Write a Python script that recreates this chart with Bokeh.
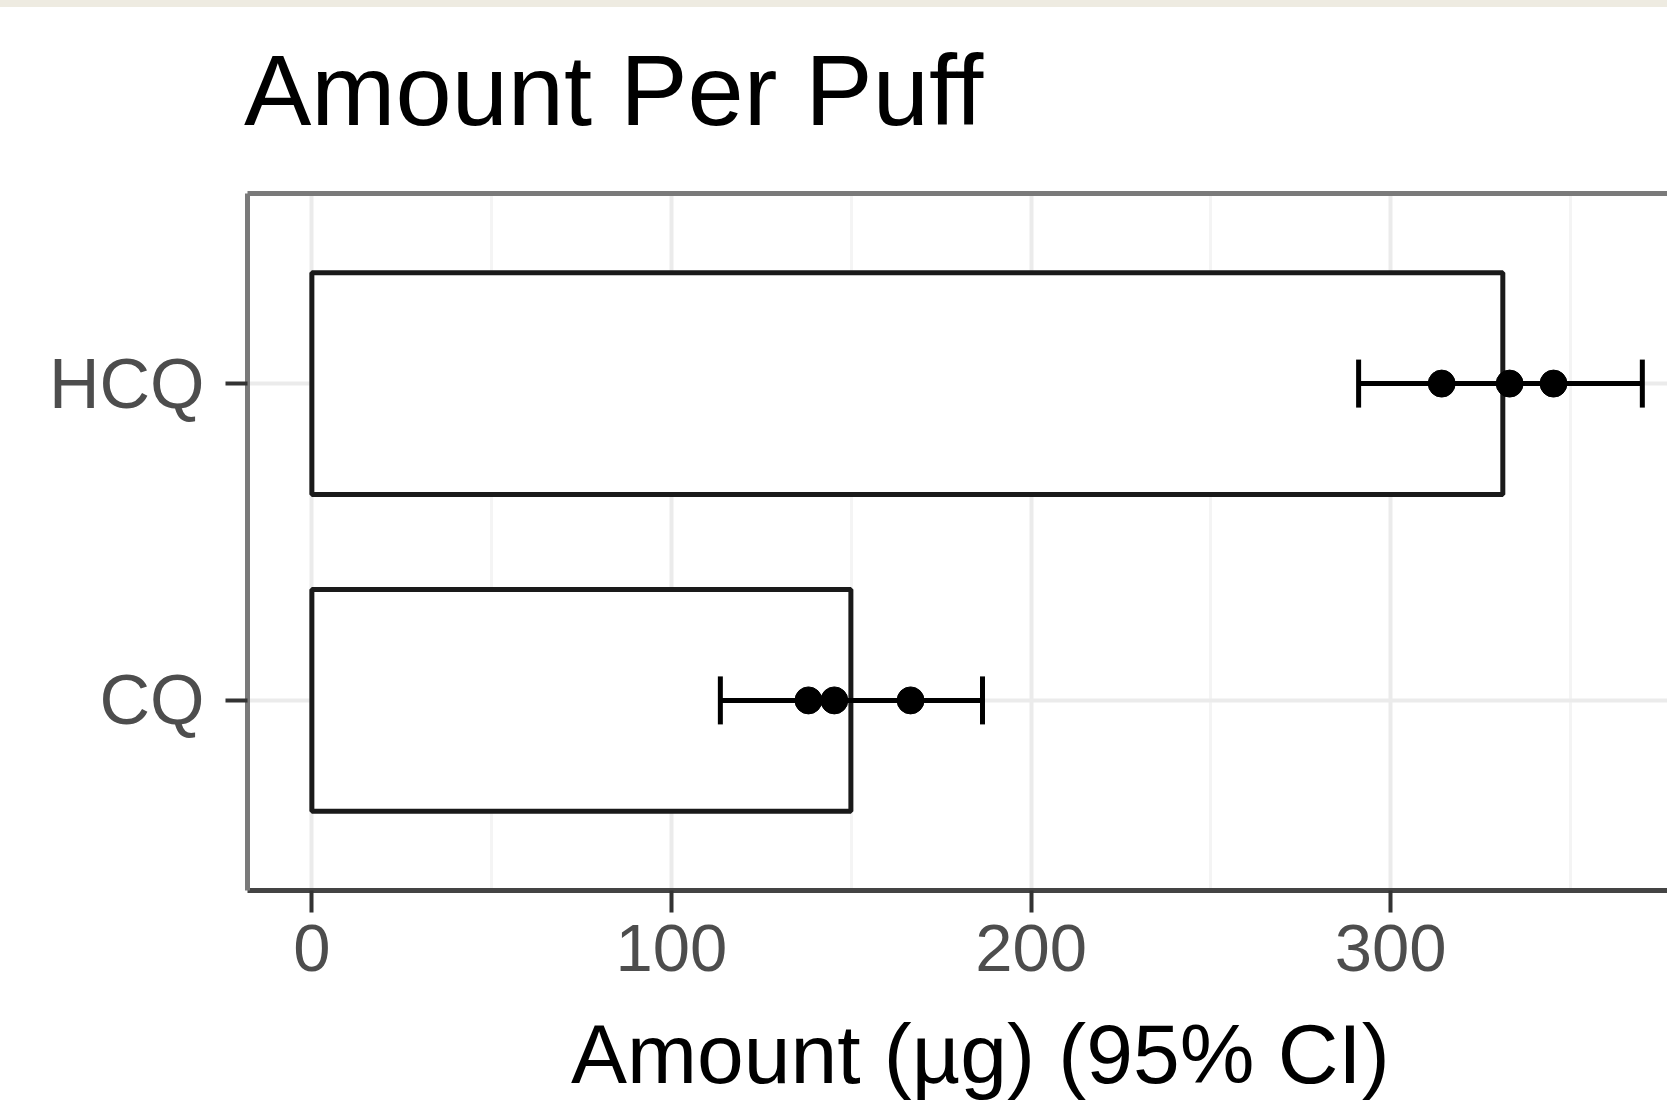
from bokeh.plotting import figure
from bokeh.layouts import column
from bokeh.models import (Range1d, FactorRange, FixedTicker, LinearAxis, Whisker,
                          TeeHead, ColumnDataSource, Div)
from bokeh.embed import file_html
from bokeh.resources import INLINE

# ---- data ----
categories = ["CQ", "HCQ"]
mean_amount = [149.9, 331.2]
ci_lower = [113.6, 291.1]
ci_upper = [186.5, 370.0]
cq_points = [138.1, 145.3, 166.5]
hcq_points = [314.2, 333.1, 345.3]
x_ticks = [0, 100, 200, 300]
x_minor_ticks = [50, 150, 250, 350]

title_text = "Amount Per Puff"
x_title = "Amount (µg) (95% CI)"

FONT = "Liberation Sans"
W = 1667

# ---- title block (with the thin beige band seen at the very top) ----
title_div = Div(
    text=('<div style="height:7px;width:%dpx;background:#eeebe1;"></div>'
          '<div style="padding:33px 0 0 244px;font-family:\'Liberation Sans\';'
          'font-size:101px;line-height:101px;color:#000;white-space:nowrap;">%s</div>'
          % (W, title_text)),
    width=W, height=150, margin=(0, 0, 0, 0))

# ---- main plot ----
p = figure(width=W, height=850, output_backend="svg", toolbar_location=None,
           x_range=Range1d(-17.9, 377.0),
           y_range=FactorRange(factors=categories, range_padding=0.1,
                               range_padding_units="absolute"),
           min_border_left=247, min_border_right=0,
           min_border_top=43, min_border_bottom=110, margin=(0, 0, 0, 0))
p.outline_line_color = None
p.background_fill_color = "white"
p.border_fill_color = "white"

# grids
tick = FixedTicker(ticks=x_ticks, minor_ticks=x_minor_ticks)
p.xaxis.ticker = tick
p.xgrid.ticker = tick
p.xgrid.grid_line_color = "#ebebeb"
p.xgrid.grid_line_width = 4
p.xgrid.minor_grid_line_color = "#f4f4f4"
p.xgrid.minor_grid_line_width = 3
p.ygrid.grid_line_color = "#ebebeb"
p.ygrid.grid_line_width = 4

# axes
for ax in (p.xaxis[0], p.yaxis[0]):
    ax.major_label_text_font = FONT
    ax.major_label_text_color = "#4d4d4d"
    ax.major_tick_line_color = "#333333"
    ax.major_tick_line_width = 4
    ax.major_tick_out = 22
    ax.major_tick_in = 0
    ax.minor_tick_line_color = None
    ax.axis_line_width = 5
p.xaxis.major_label_text_font_size = "67px"
p.yaxis.major_label_text_font_size = "70px"
p.xaxis.axis_line_color = "#444444"
p.yaxis.axis_line_color = "#7a7a7a"
p.xaxis.major_label_standoff = 12
p.yaxis.major_label_standoff = 21
p.xaxis.axis_label = None

top = LinearAxis(ticker=FixedTicker(ticks=[]), major_label_text_font_size="0px",
                 major_tick_line_color=None, minor_tick_line_color=None,
                 axis_line_color="#7a7a7a", axis_line_width=5)
p.add_layout(top, "above")

# bars
p.hbar(y=categories, left=0, right=mean_amount, height=0.7,
       fill_color="white", line_color="#1a1a1a", line_width=5)

# error bars
src = ColumnDataSource(dict(cat=categories, lo=ci_lower, hi=ci_upper))
w = Whisker(source=src, base="cat", lower="lo", upper="hi", dimension="width",
            line_color="black", line_width=5,
            upper_head=TeeHead(size=48, line_width=5, line_color="black"),
            lower_head=TeeHead(size=48, line_width=5, line_color="black"))
w.level = "annotation"
p.add_layout(w)

# individual points
pts_x = cq_points + hcq_points
pts_y = ["CQ"] * len(cq_points) + ["HCQ"] * len(hcq_points)
pr = p.scatter(x=pts_x, y=pts_y, size=27, color="black")
pr.level = "overlay"

# ---- x-axis title block (centred on the full, cropped panel) ----
xtitle_div = Div(
    text=('<div style="padding:12px 0 0 571px;font-family:\'Liberation Sans\';'
          'font-size:84px;line-height:84px;color:#000;white-space:nowrap;">%s</div>'
          % x_title),
    width=W, height=105, margin=(0, 0, 0, 0))

layout = column(title_div, p, xtitle_div, spacing=0)

open("out.html", "w").write(file_html(layout, INLINE))
